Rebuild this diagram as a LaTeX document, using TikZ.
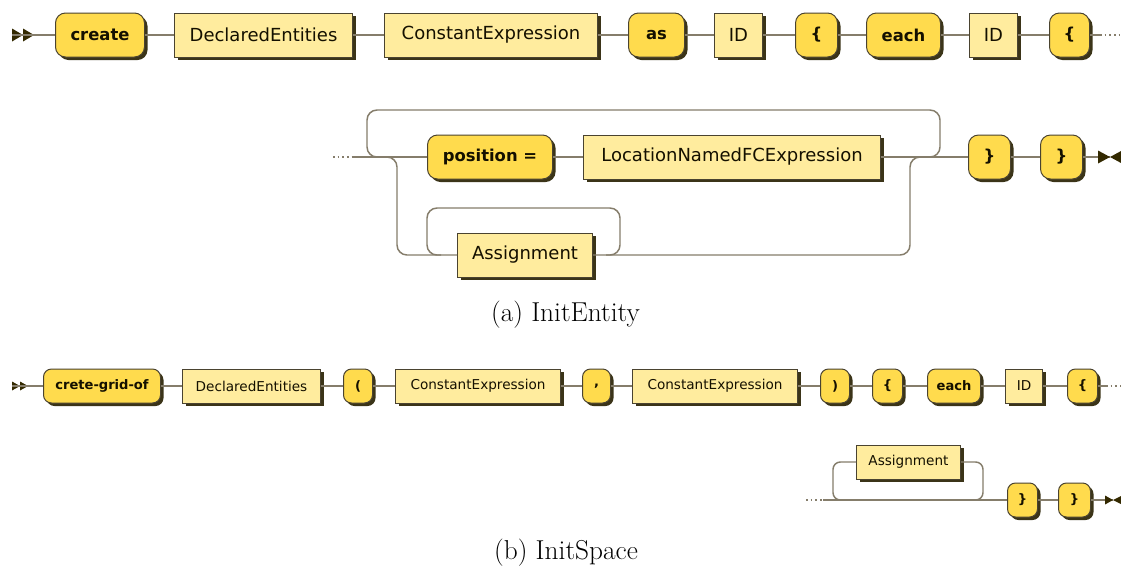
\documentclass[tikz,border=0pt]{standalone}
\usepackage{fontspec}
\newfontfamily\rrfont{DejaVu Sans}
\usetikzlibrary{shadows}
\definecolor{termfill}{HTML}{FFDB4D}
\definecolor{ntfill}{HTML}{FFEC9E}
\definecolor{boxline}{HTML}{4A4330}
\definecolor{shadowc}{HTML}{3B3418}
\definecolor{railc}{HTML}{857D6B}
\definecolor{markc}{HTML}{332900}
\definecolor{txtc}{HTML}{141000}
\newcommand{\rrnode}[6]{\node[#2, minimum width={(#4-#3)*0.75pt}, anchor=west] (#1) at (#3,#5) {#6};}
\tikzset{
  rr/.style={draw=railc, line width=1.1pt},
  rrdots/.style={draw=railc, line width=1.1pt, dash pattern=on 1.2pt off 2.3pt},
  rrbase/.style={draw=boxline, line width=0.75pt, inner sep=0pt, text=txtc,
    drop shadow={shadow xshift=2.25pt, shadow yshift=-2.25pt, fill=shadowc, opacity=1}},
  termA/.style={rrbase, fill=termfill, rounded corners=7.5pt, minimum height=33pt,
    font=\rrfont\bfseries\fontsize{12.3pt}{14pt}\selectfont},
  ntA/.style={rrbase, fill=ntfill, minimum height=33pt,
    font=\rrfont\fontsize{13.5pt}{16pt}\selectfont},
  termB/.style={rrbase, fill=termfill, rounded corners=6pt, minimum height=25.5pt,
    font=\rrfont\bfseries\fontsize{9.8pt}{12pt}\selectfont},
  ntB/.style={rrbase, fill=ntfill, minimum height=25.5pt,
    font=\rrfont\fontsize{10.2pt}{12pt}\selectfont},
  markfill/.style={fill=markc},
  capstyle/.style={font=\fontsize{20.5pt}{24pt}\selectfont}
}
\begin{document}
\begin{tikzpicture}[x=0.75pt,y=-0.75pt]
\fill[white] (0,0) rectangle (1121,572);
\useasboundingbox (0,0) rectangle (1121,572);

% ---------- (a) row 1 ----------
\rrnode{create}{termA}{55}{144}{35}{create}
\rrnode{deA}{ntA}{174}{352}{35}{DeclaredEntities}
\rrnode{ceA}{ntA}{384}{597}{35}{ConstantExpression}
\rrnode{as}{termA}{628}{684}{35}{as}
\rrnode{idA1}{ntA}{714}{762}{35}{ID}
\rrnode{lbA1}{termA}{795}{837}{35}{\{}
\rrnode{eachA}{termA}{866}{940}{35}{each}
\rrnode{idA2}{ntA}{969}{1017}{35}{ID}
\rrnode{lbA2}{termA}{1049}{1089}{35}{\{}
\fill[markfill] (12,28.5) -- (23,35) -- (12,41.5) -- cycle (23,28.5) -- (34,35) -- (23,41.5) -- cycle;
\coordinate (sA) at (12,35);
\coordinate (dA) at (1100,35);
\draw[rr] (sA) -- (create);
\draw[rr] (create) -- (deA);
\draw[rr] (deA) -- (ceA);
\draw[rr] (ceA) -- (as);
\draw[rr] (as) -- (idA1);
\draw[rr] (idA1) -- (lbA1);
\draw[rr] (lbA1) -- (eachA);
\draw[rr] (eachA) -- (idA2);
\draw[rr] (idA2) -- (lbA2);
\draw[rr] (lbA2) -- (dA);
\draw[rrdots] (dA) -- (1121,35);

% ---------- (a) row 2 ----------
\rrnode{pos}{termA}{427}{552}{157}{position =}
\rrnode{lnfe}{ntA}{583}{880}{157}{LocationNamedFCExpression}
\rrnode{asgA}{ntA}{457}{592}{255}{Assignment}
\rrnode{rbA1}{termA}{968}{1010}{157}{\}}
\rrnode{rbA2}{termA}{1040}{1082}{157}{\}}
\coordinate (inA) at (352,157);
\coordinate (eA) at (1110,157);
\draw[rrdots] (333,157) -- (inA);
\draw[rr] (inA) -- (pos);
\draw[rr] (pos) -- (lnfe);
\draw[rr] (lnfe) -- (rbA1);
\draw[rr] (rbA1) -- (rbA2);
\draw[rr] (rbA2) -- (eA);
% bypass on top
\draw[rr, rounded corners=7.5pt] (381,157) -| (367,110) -| (940,157) -- (926,157);
% branch to Assignment
\draw[rr, rounded corners=7.5pt] (383,157) -| (397,255) -- (asgA.west);
% loop over Assignment
\draw[rr, rounded corners=7.5pt] (606,255) -| (620,208) -| (427,255) -- (441,255);
% back to main line
\draw[rr, rounded corners=7.5pt] (asgA.east) -| (910,157) -- (924,157);
\fill[markfill] (1098,150.5) -- (1110,157) -- (1098,163.5) -- cycle (1122,150.5) -- (1110,157) -- (1122,163.5) -- cycle;

\node[capstyle] (capA) at (565.5,315) {(a) InitEntity};

% ---------- (b) row 1 ----------
\rrnode{cgo}{termB}{43}{160}{386}{crete-grid-of}
\rrnode{deB}{ntB}{182}{320}{386}{DeclaredEntities}
\rrnode{lp}{termB}{343}{372}{386}{(}
\rrnode{ceB1}{ntB}{395}{560}{386}{ConstantExpression}
\rrnode{comma}{termB}{582}{610}{386}{,}
\rrnode{ceB2}{ntB}{632}{797}{386}{ConstantExpression}
\rrnode{rp}{termB}{820}{849}{386}{)}
\rrnode{lbB1}{termB}{872}{902}{386}{\{}
\rrnode{eachB}{termB}{927}{980}{386}{each}
\rrnode{idB}{ntB}{1005}{1042}{386}{ID}
\rrnode{lbB2}{termB}{1067}{1097}{386}{\{}
\fill[markfill] (12,381.5) -- (20,386) -- (12,390.5) -- cycle (20,381.5) -- (28,386) -- (20,390.5) -- cycle;
\coordinate (sB) at (12,386);
\coordinate (dB) at (1106,386);
\draw[rr] (sB) -- (cgo);
\draw[rr] (cgo) -- (deB);
\draw[rr] (deB) -- (lp);
\draw[rr] (lp) -- (ceB1);
\draw[rr] (ceB1) -- (comma);
\draw[rr] (comma) -- (ceB2);
\draw[rr] (ceB2) -- (rp);
\draw[rr] (rp) -- (lbB1);
\draw[rr] (lbB1) -- (eachB);
\draw[rr] (eachB) -- (idB);
\draw[rr] (idB) -- (lbB2);
\draw[rr] (lbB2) -- (dB);
\draw[rrdots] (dB) -- (1121,386);

% ---------- (b) row 2 ----------
\rrnode{asgB}{ntB}{856}{960}{462}{Assignment}
\rrnode{rbB1}{termB}{1007}{1037}{500}{\}}
\rrnode{rbB2}{termB}{1058}{1090}{500}{\}}
\coordinate (inB) at (823,500);
\coordinate (eB) at (1113,500);
\draw[rrdots] (806,500) -- (inB);
\draw[rr] (inB) -- (rbB1);
\draw[rr] (rbB1) -- (rbB2);
\draw[rr] (rbB2) -- (eB);
\draw[rr, rounded corners=5.5pt] (846,500) -| (833,462) -- (asgB.west);
\draw[rr, rounded corners=5.5pt] (asgB.east) -| (983,500) -- (970,500);
\fill[markfill] (1105,495.5) -- (1113,500) -- (1105,504.5) -- cycle (1122,495.5) -- (1113,500) -- (1122,504.5) -- cycle;

\node[capstyle] (capB) at (566,553) {(b) InitSpace};
\end{tikzpicture}
\end{document}
